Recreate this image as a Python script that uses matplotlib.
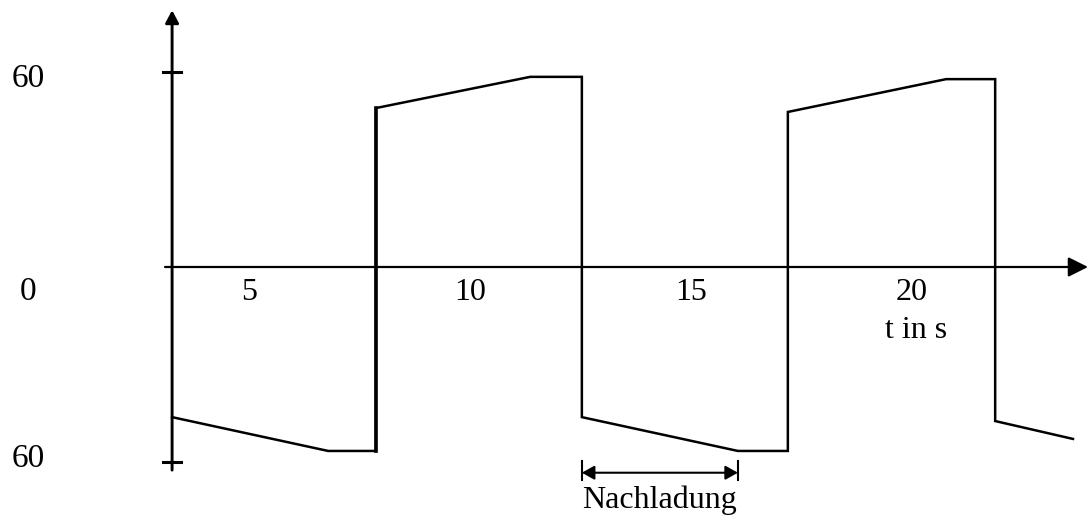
import matplotlib
matplotlib.use("Agg")
import matplotlib.pyplot as plt

# waveform corner points (t in s, value)
t_pts = [3.26, 6.79, 7.87, 7.87, 11.36, 12.53, 12.53, 16.06, 17.19, 17.19, 20.77, 21.88, 21.88, 23.64]
u_pts = [-46.2, -56.6, -56.6, 48.9, 58.5, 58.5, -46.2, -56.6, -56.6, 47.7, 57.8, 57.8, -47.4, -52.9]

x_ticks = [5, 10, 15, 20]
y_ticks = [60, 0, -60]
y_labels = ["60", "0", "60"]

# Nachladung span
nach_start, nach_end = 12.53, 16.06

plt.rcParams['font.family'] = ['Liberation Serif', 'DejaVu Serif']

fig = plt.figure(figsize=(10.88, 5.23), dpi=100)
ax = fig.add_axes([0, 0, 1, 1])
ax.set_xlim(-0.633, 23.98)
ax.set_ylim(-78.77, 82.15)
ax.axis('off')

ax0 = 3.26  # position of vertical axis

# axes with arrows
ax.annotate('', xy=(23.98, 0), xytext=(3.1, 0),
            arrowprops=dict(arrowstyle='-|>,head_length=1.2,head_width=0.6', mutation_scale=10,
                            color='black', lw=1.6, shrinkA=0, shrinkB=0))
ax.annotate('', xy=(ax0, 79.0), xytext=(ax0, -62.5),
            arrowprops=dict(arrowstyle='-|>,head_length=0.75,head_width=0.4', mutation_scale=10,
                            color='black', lw=2.1, shrinkA=0, shrinkB=0))

# ticks on vertical axis
for v in [60, -60]:
    ax.plot([ax0 - 0.21, ax0 + 0.2], [v, v], color='black', lw=2.2)

# waveform
ax.plot(t_pts, u_pts, color='black', lw=1.8, solid_joinstyle='miter')
ax.plot([7.87, 7.87], [-56.6, 48.9], color='black', lw=2.6)

# tick labels
for t in x_ticks:
    ax.text(t, -7.8, str(t), ha='center', va='center', fontsize=23)
label_pos = [58.0, -7.5, -59.0]
for p, lab in zip(label_pos, y_labels):
    ax.text(0, p, lab, ha='center', va='center', fontsize=24)
ax.text(20.1, -19.5, 't in s', ha='center', va='center', fontsize=23)

# Nachladung dimension
ax.annotate('', xy=(nach_start, -63.3), xytext=(nach_end, -63.3),
            arrowprops=dict(arrowstyle='<|-|>,head_length=0.75,head_width=0.42', mutation_scale=10,
                            color='black', lw=1.5, shrinkA=0, shrinkB=0))
for t in [nach_start, nach_end]:
    ax.plot([t, t], [-59.8, -65.6], color='black', lw=1.5)
ax.text((nach_start + nach_end) / 2, -71.8, 'Nachladung', ha='center', va='center', fontsize=23)

fig.savefig('out.png', dpi=100)
